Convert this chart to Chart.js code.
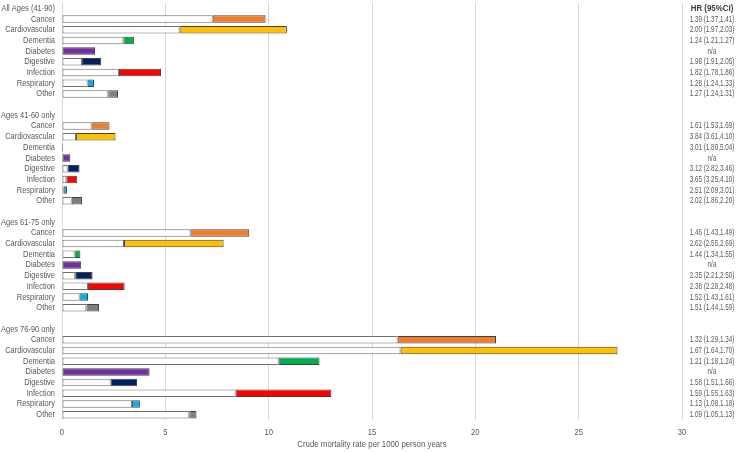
<!DOCTYPE html>
<html>
<head>
<meta charset="utf-8">
<script src="https://cdn.jsdelivr.net/npm/chart.js@4/dist/chart.umd.min.js"></script>
<style>
  html, body { margin: 0; padding: 0; background: #fff; }
  #wrap { width: 740px; height: 452px; }
</style>
</head>
<body>
<div id="wrap"><canvas id="rateChart"></canvas></div>
<script>
// ---------- data ----------
const ageGroups = ['All Ages (41-90)', 'Ages 41-60 only', 'Ages 61-75 only', 'Ages 76-90 only'];
const causes = ['Cancer', 'Cardiovascular', 'Dementia', 'Diabetes', 'Digestive', 'Infection', 'Respiratory', 'Other'];
const causeColors = ['#ED7D31', '#FFC000', '#00B050', '#7030A0', '#002060', '#FF0000', '#00B0F0', '#7F7F7F'];

// white bar = reference rate, coloured bar runs on to the exposed rate (null = no reference bar)
const allBase   = [7.29, 5.69, 2.97, null, 0.97, 2.76, 1.24, 2.24];
const allTotal  = [9.85, 10.88, 3.48, 1.60, 1.89, 4.79, 1.55, 2.71];
const a4160Base  = [1.43, 0.68, 0.01, null, 0.27, 0.21, 0.08, 0.47];
const a4160Total = [2.30, 2.59, 0.04, 0.40, 0.85, 0.74, 0.24, 0.97];
const a6175Base  = [6.22, 3.00, 0.61, null, 0.64, 1.26, 0.85, 1.18];
const a6175Total = [9.06, 7.82, 0.89, 0.93, 1.48, 3.03, 1.26, 1.79];
const a7690Base  = [16.24, 16.38, 10.48, null, 2.35, 8.40, 3.39, 6.16];
const a7690Total = [21.00, 26.88, 12.46, 4.24, 3.63, 13.03, 3.77, 6.51];

const hrAll  = ['1.39 (1.37,1.41)', '2.00 (1.97,2.03)', '1.24 (1.21,1.27)', 'n/a', '1.98 (1.91,2.05)', '1.82 (1.78,1.86)', '1.28 (1.24,1.33)', '1.27 (1.24,1.31)'];
const hr4160 = ['1.61 (1.53,1.69)', '3.84 (3.61,4.10)', '3.01 (1.80,5.04)', 'n/a', '3.12 (2.82,3.46)', '3.65 (3.25,4.10)', '2.51 (2.09,3.01)', '2.02 (1.86,2.20)'];
const hr6175 = ['1.46 (1.43,1.49)', '2.62 (2.55,2.69)', '1.44 (1.34,1.55)', 'n/a', '2.35 (2.21,2.50)', '2.38 (2.28,2.48)', '1.52 (1.43,1.61)', '1.51 (1.44,1.59)'];
const hr7690 = ['1.32 (1.29,1.34)', '1.67 (1.64,1.70)', '1.21 (1.18,1.24)', 'n/a', '1.58 (1.51,1.66)', '1.59 (1.55,1.63)', '1.13 (1.08,1.18)', '1.09 (1.05,1.13)'];

const hrTitle = 'HR (95%CI)';
const xTicks = [0, 5, 10, 15, 20, 25, 30];
const xTitle = 'Crude mortality rate per 1000 person years';

// ---------- build rows (group header, 8 causes, blank spacer) ----------
const groupBase  = [allBase, a4160Base, a6175Base, a7690Base];
const groupTotal = [allTotal, a4160Total, a6175Total, a7690Total];
const groupHr    = [hrAll, hr4160, hr6175, hr7690];

const rowLabels = [], hrLabels = [], whiteBars = [], colourBars = [], colourFill = [];
ageGroups.forEach(function (g, gi) {
  rowLabels.push(g);
  hrLabels.push(gi === 0 ? hrTitle : '');
  whiteBars.push(null); colourBars.push(null); colourFill.push('#fff');
  causes.forEach(function (c, ci) {
    const b = groupBase[gi][ci];
    const t = groupTotal[gi][ci];
    rowLabels.push(c);
    hrLabels.push(groupHr[gi][ci]);
    whiteBars.push(b === null ? null : [0, b]);
    colourBars.push([b === null ? 0 : b, t]);
    colourFill.push(causeColors[ci]);
  });
  if (gi < ageGroups.length - 1) {
    rowLabels.push(''); hrLabels.push('');
    whiteBars.push(null); colourBars.push(null); colourFill.push('#fff');
  }
});

// ---------- narrow text (the reference uses a tight Calibri-like face) ----------
const LABEL_SQUEEZE = { x: 0.85, y: 0.83, y2: 0.7 };
const HR_TITLE_SQUEEZE = 0.88;
const TITLE_SQUEEZE = 0.87;
const Y_LABEL_GAP = 7;

const squeezeText = {
  id: 'squeezeText',
  afterLayout: function (chart) {
    Object.keys(chart.scales).forEach(function (id) {
      const s = chart.scales[id];
      if (s._squeezed) return;
      s._squeezed = true;
      const origTitle = s.drawTitle;

      // own label loop: no clip box, each label squeezed round its anchor
      s.drawLabels = function (area) {
        const ctx = this.ctx;
        const items = this.getLabelItems(area);
        const centre = (this.left + this.right) / 2 + 1;
        items.forEach(function (it) {
          let k = LABEL_SQUEEZE[id] || 1;
          if (it.label === hrTitle) k = HR_TITLE_SQUEEZE;
          const ax = it.options.translation[0];
          let tx = ax;
          if (id === 'y2') tx = centre;
          if (id === 'y') tx = ax - Y_LABEL_GAP;
          ctx.save();
          ctx.translate(tx, 0); ctx.scale(k, 1); ctx.translate(-ax, 0);
          Chart.helpers.renderText(ctx, it.label, 0, it.textOffset, it.font, it.options);
          ctx.restore();
        });
      };
      s.drawTitle = function () {
        const ctx = this.ctx;
        const ax = (this.left + this.right) / 2;
        ctx.save();
        ctx.translate(ax, 0); ctx.scale(TITLE_SQUEEZE, 1); ctx.translate(-ax, 0);
        origTitle.apply(this, arguments);
        ctx.restore();
      };
    });
  },
};

// ---------- chart ----------
const FAMILY = "'Liberation Sans', Arial, sans-serif";
const textGrey = '#595959';

new Chart(document.getElementById('rateChart').getContext('2d'), {
  type: 'bar',
  data: {
    labels: rowLabels,
    datasets: [
      {
        data: whiteBars,
        backgroundColor: '#ffffff',
        borderColor: '#707070',
        borderWidth: 1,
        borderSkipped: false,
        grouped: false,
        barPercentage: 0.7,
        categoryPercentage: 1,
      },
      {
        data: colourBars,
        backgroundColor: colourFill,
        borderColor: '#404040',
        borderWidth: 1,
        borderSkipped: false,
        grouped: false,
        barPercentage: 0.7,
        categoryPercentage: 1,
      },
    ],
  },
  options: {
    indexAxis: 'y',
    responsive: true,
    maintainAspectRatio: false,
    animation: false,
    layout: { padding: { top: 3, left: 0, right: 0, bottom: 0 } },
    plugins: { legend: { display: false }, tooltip: { enabled: false } },
    scales: {
      x: {
        min: 0,
        max: 30,
        afterBuildTicks: function (s) { s.ticks = xTicks.map(function (v) { return { value: v }; }); },
        afterFit: function (s) { s.height = 32; },
        grid: { color: '#d9d9d9', drawTicks: false },
        border: { display: false },
        ticks: { color: textGrey, padding: 7, font: { family: FAMILY, size: 9 } },
        title: {
          display: true,
          text: xTitle,
          color: textGrey,
          padding: { top: 0, bottom: 2 },
          font: { family: FAMILY, size: 9 },
        },
      },
      y: {
        position: 'left',
        afterFit: function (s) { s.width = 62; },
        grid: { display: false, drawTicks: false },
        border: { display: false },
        ticks: { color: textGrey, padding: 0, autoSkip: false, font: { family: FAMILY, size: 9, lineHeight: 0.5 } },
      },
      y2: {
        type: 'category',
        position: 'right',
        labels: hrLabels,
        offset: true,
        afterFit: function (s) { s.width = 58; },
        grid: { display: false, drawTicks: false },
        border: { display: false },
        ticks: {
          color: function (ctx) { return ctx.index === 0 ? '#404040' : textGrey; },
          padding: 0,
          autoSkip: false,
          crossAlign: 'center',
          font: function (ctx) {
            return { family: FAMILY, size: 9, lineHeight: 0.5, weight: ctx.index === 0 ? 'bold' : 'normal' };
          },
        },
      },
    },
  },
  plugins: [squeezeText],
});
</script>
</body>
</html>
